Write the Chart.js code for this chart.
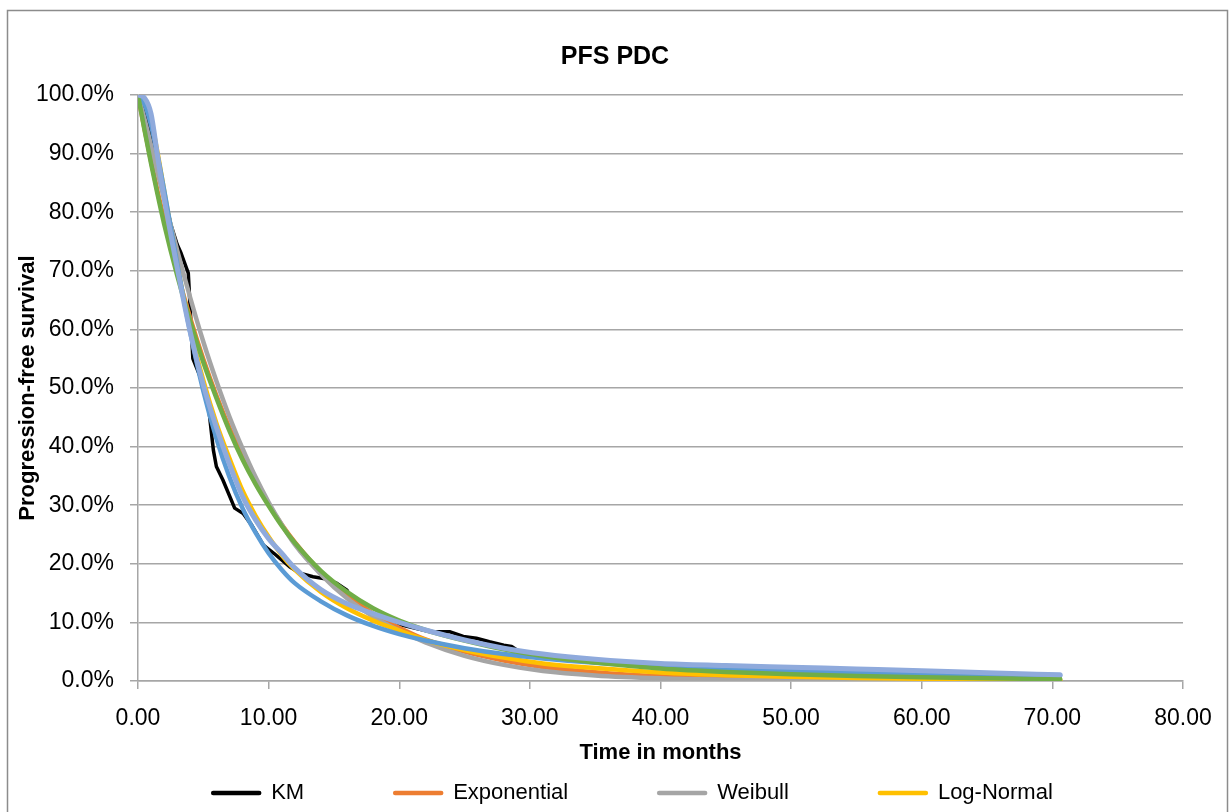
<!DOCTYPE html>
<html>
<head>
  <title>PFS PDC</title>
  <script src="https://cdn.jsdelivr.net/npm/chart.js"></script>
  <style>
    html, body { margin: 0; padding: 0; background: #fff; overflow: hidden; }
    #wrap { width: 1230px; height: 812px; }
  </style>
</head>
<body>
  <div id="wrap"><canvas id="pfsChart"></canvas></div>
  <script>
    // Kaplan-Meier estimate (months, % progression-free)
    const kmMonths = [0, 0.5, 1, 1.5, 2, 2.5, 3, 3.3, 3.85, 4.2, 4.75, 5.4, 5.77, 6.0, 6.5, 7.4, 8.05, 8.7, 9.6, 10.4,
      11.6, 12.4, 13.4, 14.2, 15.2, 16.0, 16.5, 17.2, 18.3, 19.3, 20.1, 22.4, 23.9, 24.9, 25.9, 26.9, 28.0, 28.6, 29.2, 30.8, 32.1];
    const kmSurvival = [100, 97.5, 93.0, 88.0, 83.0, 78.0, 74.5, 73.0, 69.6, 55.0, 52.0, 46.8, 39.4, 36.6, 34.3, 29.5, 28.6, 26.6, 23.2, 21.8,
      19.5, 18.4, 17.8, 17.5, 16.7, 15.5, 13.3, 12.1, 10.9, 10.1, 9.6, 8.4, 8.4, 7.6, 7.3, 6.7, 6.1, 5.9, 5.0, 4.4, 4.1];

    // parametric fits on a common month grid
    const fitMonths = [0, 0.5, 1, 1.5, 2, 3, 4, 5, 6, 7, 8, 9, 10, 11, 12, 14, 16, 18, 20, 22, 25, 28, 31, 35, 40, 45, 50, 55, 60, 65, 70.6];
    const exponential = [100, 94.2, 88.7, 83.5, 78.7, 69.8, 61.9, 54.9, 48.7, 43.2, 38.3, 34.0, 30.1, 26.7, 23.7, 18.6,
      14.7, 11.5, 9.1, 7.1, 5.0, 3.5, 2.4, 1.5, 0.8, 0.45, 0.25, 0.14, 0.07, 0.04, 0.02];
    const weibull = [100, 95.9, 91.4, 86.8, 82.2, 73.5, 65.4, 57.9, 51.2, 45.1, 39.7, 34.8, 30.5, 26.7, 23.3, 18.2,
      14.1, 11.0, 8.6, 6.6, 4.3, 2.75, 1.7, 0.95, 0.45, 0.2, 0.09, 0.04, 0.02, 0.01, 0.005];
    const logNormal = [100, 99.3, 95.7, 90.1, 83.7, 71.1, 60.0, 51.3, 44.0, 38.0, 32.5, 28.2, 24.6, 21.5, 19.0, 15.2,
      12.4, 10.3, 8.6, 7.0, 5.3, 4.0, 3.0, 2.2, 1.45, 1.0, 0.72, 0.52, 0.38, 0.28, 0.2];
    const logLogistic = [100, 98.5, 94.8, 89.7, 83.8, 71.3, 59.5, 49.5, 41.4, 34.8, 29.5, 25.3, 21.8, 19.0, 16.7, 13.6,
      11.2, 9.4, 8.0, 6.9, 5.6, 4.6, 3.85, 3.1, 2.45, 2.0, 1.7, 1.45, 1.25, 1.05, 0.9];
    const gompertz = [100, 94.0, 88.3, 83.0, 78.0, 69.2, 61.4, 54.4, 48.3, 42.7, 37.8, 33.6, 29.9, 26.5, 23.6, 18.8,
      15.2, 12.4, 10.3, 8.7, 6.9, 5.4, 4.25, 3.15, 2.15, 1.55, 1.15, 0.85, 0.62, 0.45, 0.32];
    const genGamma = [100, 99.5, 96.8, 89.5, 82.5, 70.5, 59.5, 50.5, 43.3, 37.0, 31.5, 27.5, 24.3, 21.8, 19.3, 15.6,
      13.2, 11.5, 10.0, 8.7, 7.0, 5.6, 4.6, 3.7, 3.0, 2.65, 2.35, 2.05, 1.75, 1.4, 1.05];

    const seriesNames = ['KM', 'Exponential', 'Weibull', 'Log-Normal', 'Log-Logistic', 'Gompertz', 'Generalised Gamma'];
    const seriesColors = ['#000000', '#ED7D31', '#A5A5A5', '#FFC000', '#5B9BD5', '#70AD47', '#8FAADC'];

    const FONT = '"Liberation Sans", Arial, sans-serif';
    const GRID = '#A6A6A6';

    const toPoints = (xs, ys) => xs.map((x, i) => ({ x: x, y: ys[i] }));
    const curves = [
      toPoints(kmMonths, kmSurvival),
      toPoints(fitMonths, exponential),
      toPoints(fitMonths, weibull),
      toPoints(fitMonths, logNormal),
      toPoints(fitMonths, logLogistic),
      toPoints(fitMonths, gompertz),
      toPoints(fitMonths, genGamma)
    ];

    const datasets = curves.map((pts, i) => ({
      label: seriesNames[i],
      data: pts,
      borderColor: seriesColors[i],
      backgroundColor: seriesColors[i],
      borderWidth: i === 0 ? 3.5 : (i === 6 ? 5 : 4.5),
      pointRadius: 0,
      fill: false,
      tension: 0,
      cubicInterpolationMode: i === 0 ? 'default' : 'monotone',
      borderCapStyle: 'round',
      borderJoinStyle: 'round',
      order: seriesNames.length - i   // later series painted on top
    }));

    // white page with the grey chart frame
    const frame = {
      id: 'frame',
      beforeDraw(chart) {
        const ctx = chart.ctx;
        ctx.save();
        ctx.fillStyle = '#fff';
        ctx.fillRect(0, 0, chart.width, chart.height);
        ctx.strokeStyle = '#8C8C8C';
        ctx.lineWidth = 1.5;
        ctx.strokeRect(7.5, 10.5, 1220, 860);
        ctx.restore();
      }
    };

    // legend rows under the axis title, line sample + label
    const bottomLegend = {
      id: 'bottomLegend',
      afterDraw(chart) {
        const ctx = chart.ctx;
        const gap = 89, sample = 50, textGap = 10;
        ctx.save();
        ctx.font = '22px ' + FONT;
        ctx.textBaseline = 'middle';
        const items = chart.data.datasets.map(ds => ({
          label: ds.label,
          color: ds.borderColor,
          w: sample + textGap + ctx.measureText(ds.label).width
        }));
        const maxW = chart.chartArea.width;
        const rows = [[]];
        let rowW = 0;
        items.forEach(it => {
          const row = rows[rows.length - 1];
          const add = row.length ? gap + it.w : it.w;
          if (row.length && rowW + add > maxW) {
            rows.push([it]);
            rowW = it.w;
          } else {
            row.push(it);
            rowW += add;
          }
        });
        let y = 793;
        rows.forEach(row => {
          const total = row.reduce((s, it) => s + it.w, 0) + gap * (row.length - 1);
          let x = 632 - total / 2;
          row.forEach(it => {
            ctx.strokeStyle = it.color;
            ctx.lineWidth = 4.5;
            ctx.lineCap = 'round';
            ctx.beginPath();
            ctx.moveTo(x + 2, y);
            ctx.lineTo(x + sample - 2, y);
            ctx.stroke();
            ctx.fillStyle = '#000';
            ctx.fillText(it.label, x + sample + textGap, y);
            x += it.w + gap;
          });
          y += 36;
        });
        ctx.restore();
      }
    };

    const ctx = document.getElementById('pfsChart').getContext('2d');
    new Chart(ctx, {
      type: 'line',
      data: { datasets: datasets },
      plugins: [frame, bottomLegend],
      options: {
        responsive: true,
        maintainAspectRatio: false,
        animation: false,
        layout: { padding: { left: 10, right: 10, top: 0, bottom: 42 } },
        plugins: {
          legend: { display: false },
          tooltip: { enabled: false },
          title: {
            display: true,
            text: 'PFS PDC',
            color: '#000',
            font: { family: FONT, size: 25, weight: 'bold' },
            padding: { top: 42, bottom: 23 }
          }
        },
        scales: {
          x: {
            type: 'linear',
            min: 0,
            max: 80,
            ticks: {
              stepSize: 10,
              color: '#000',
              font: { family: FONT, size: 23 },
              padding: 16,
              maxRotation: 0,
              callback: v => v.toFixed(2)
            },
            grid: { drawOnChartArea: false, tickLength: 8, color: GRID, lineWidth: 1.5 },
            border: { color: GRID, width: 1.5 },
            title: {
              display: true,
              text: 'Time in months',
              color: '#000',
              font: { family: FONT, size: 22, weight: 'bold' },
              padding: { top: 0, bottom: 4 }
            },
            afterFit: s => { s.height = 89; }
          },
          y: {
            min: 0,
            max: 100,
            ticks: {
              stepSize: 10,
              color: '#000',
              font: { family: FONT, size: 23 },
              padding: 16,
              callback: v => v.toFixed(1) + '%'
            },
            grid: { color: GRID, lineWidth: 1.5, tickLength: 8 },
            border: { color: GRID, width: 1.5 },
            title: {
              display: true,
              text: 'Progression-free survival',
              color: '#000',
              font: { family: FONT, size: 22, weight: 'bold' },
              padding: { top: 5, bottom: 0 }
            },
            afterFit: s => { s.width = 128; }
          },
          // empty right-hand margin so the plot ends short of the frame
          yMargin: {
            position: 'right',
            min: 0,
            max: 100,
            ticks: { display: false },
            grid: { display: false },
            border: { display: false },
            afterFit: s => { s.width = 37; }
          }
        }
      }
    });
  </script>
</body>
</html>
